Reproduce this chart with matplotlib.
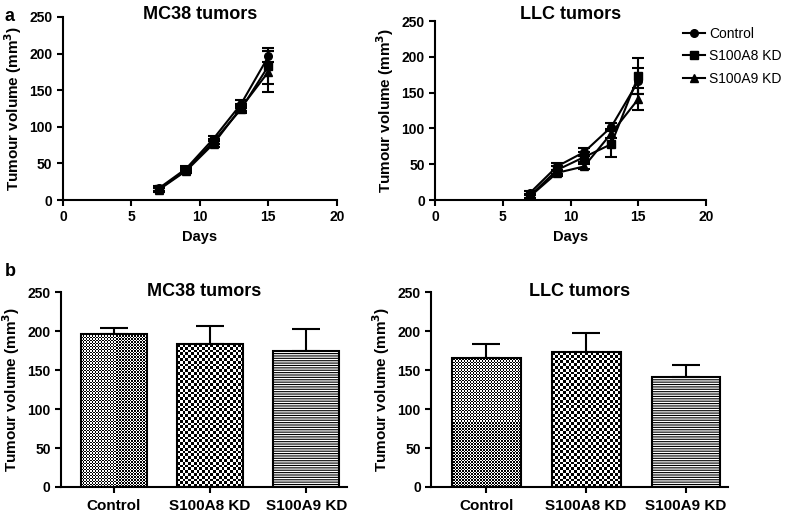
import numpy as np
import matplotlib
matplotlib.use('Agg')
import matplotlib.pyplot as plt
from matplotlib.lines import Line2D

plt.rcParams['font.family'] = ['Liberation Sans', 'DejaVu Sans']
plt.rcParams['font.weight'] = 'bold'
plt.rcParams['hatch.linewidth'] = 0.8

# growth curves (days after injection)
days = [7, 9, 11, 13, 15]
groups = ['Control', 'S100A8 KD', 'S100A9 KD']

mc38_mean = {
    'Control':   [16, 43, 84, 131, 196],
    'S100A8 KD': [15, 41, 80, 124, 183],
    'S100A9 KD': [14, 40, 77, 126, 175],
}
mc38_err = {
    'Control':   [3, 3, 4, 5, 8],
    'S100A8 KD': [3, 3, 4, 5, 24],
    'S100A9 KD': [3, 3, 4, 5, 28],
}
llc_mean = {
    'Control':   [10, 47, 67, 102, 166],
    'S100A8 KD': [6, 42, 60, 78, 173],
    'S100A9 KD': [5, 38, 47, 93, 141],
}
llc_err = {
    'Control':   [3, 5, 6, 6, 18],
    'S100A8 KD': [3, 5, 7, 18, 25],
    'S100A9 KD': [3, 4, 4, 6, 15],
}

# final volumes (day 15)
mc38_final = [196, 183, 175]
mc38_final_err = [8, 24, 28]
llc_final = [166, 173, 141]
llc_final_err = [18, 25, 15]

markers = {'Control': 'o', 'S100A8 KD': 's', 'S100A9 KD': '^'}

W, H = 787, 513
fig = plt.figure(figsize=(W / 100, H / 100), dpi=100)

ax1 = fig.add_axes([0.080, 0.610, 0.348, 0.357])
ax2 = fig.add_axes([0.553, 0.610, 0.344, 0.349])
ax3 = fig.add_axes([0.0775, 0.0507, 0.363, 0.380])
ax4 = fig.add_axes([0.548, 0.0507, 0.377, 0.380])

ylab = 'Tumour volume (mm$^\\mathbf{3}$)'


def style(ax):
    for s in ['top', 'right']:
        ax.spines[s].set_visible(False)
    for s in ['left', 'bottom']:
        ax.spines[s].set_linewidth(1.5)
    ax.tick_params(width=1.5, length=4, labelsize=10)
    ax.set_ylim(0, 250)
    ax.set_yticks([0, 50, 100, 150, 200, 250])


def title(ax, text, y):
    pos = ax.get_position()
    fig.text((pos.x0 + pos.x1) / 2, y, text, fontsize=13, fontweight='bold',
             ha='center', va='center')


for ax, mean, err, t in [(ax1, mc38_mean, mc38_err, 'MC38 tumors'),
                          (ax2, llc_mean, llc_err, 'LLC tumors')]:
    for g in groups:
        ax.errorbar(days, mean[g], yerr=err[g], color='black', lw=1.5,
                    marker=markers[g], markersize=5.5, capsize=4, capthick=1.5,
                    elinewidth=1.5)
    style(ax)
    ax.set_xlim(0, 20)
    ax.set_xticks([0, 5, 10, 15, 20])
    ax.set_xlabel('Days', fontsize=10.5, fontweight='bold')
    ax.set_ylabel(ylab, fontsize=11, fontweight='bold')
    title(ax, t, 1 - 15 / H)

handles = [Line2D([], [], color='black', lw=1.5, marker=markers[g], markersize=5.5)
           for g in groups]
fig.legend(handles, groups, loc='upper left', bbox_to_anchor=(683 / W, 1 - 27 / H),
           frameon=False, prop={'weight': 'normal', 'size': 10}, handlelength=1.6,
           handletextpad=0.3, labelspacing=0.6, borderpad=0, borderaxespad=0)


def checker(ax, rect, cell):
    # fill a bar with a black/white checkerboard of given pixel cell size
    pos = ax.get_position()
    x0, x1 = ax.get_xlim()
    y0, y1 = ax.get_ylim()
    pxx = pos.width * W / (x1 - x0)
    pxy = pos.height * H / (y1 - y0)
    bx, bw, bh = rect.get_x(), rect.get_width(), rect.get_height()
    nx = max(int(round(bw * pxx / cell)), 1)
    ny = max(int(round(bh * pxy / cell)), 1)
    tex = (np.add.outer(np.arange(ny), np.arange(nx)) % 2).astype(float)
    im = ax.imshow(tex, extent=(bx, bx + bw, 0, bh), cmap='gray', vmin=0, vmax=1,
                   interpolation='nearest', aspect='auto', zorder=1.5)
    im.set_clip_path(rect)


x = np.arange(len(groups))
for ax, vals, errs, t in [(ax3, mc38_final, mc38_final_err, 'MC38 tumors'),
                          (ax4, llc_final, llc_final_err, 'LLC tumors')]:
    ax.errorbar(x, vals, yerr=[[0] * len(vals), errs], fmt='none', ecolor='black',
                elinewidth=1.5, capsize=10, capthick=1.5, zorder=1)
    bars = ax.bar(x, vals, width=0.69, facecolor='none', edgecolor='black',
                  linewidth=1.5, zorder=3)
    bars[2].set_hatch('-------')
    style(ax)
    ax.set_xlim(-0.55, 2.42)
    checker(ax, bars[0], 1.5)
    checker(ax, bars[1], 2.8)
    ax.set_xlim(-0.55, 2.42)
    ax.set_ylim(0, 250)
    ax.set_xticks(x)
    ax.set_xticklabels(groups, fontsize=11)
    ax.tick_params(axis='x', pad=5)
    ax.set_ylabel(ylab, fontsize=11, fontweight='bold')
    title(ax, t, 1 - 292 / H)

fig.text(0.006, 0.985, 'a', fontsize=13, fontweight='bold', va='top')
fig.text(0.006, 0.488, 'b', fontsize=13, fontweight='bold', va='top')

fig.savefig('out.png', dpi=100)
